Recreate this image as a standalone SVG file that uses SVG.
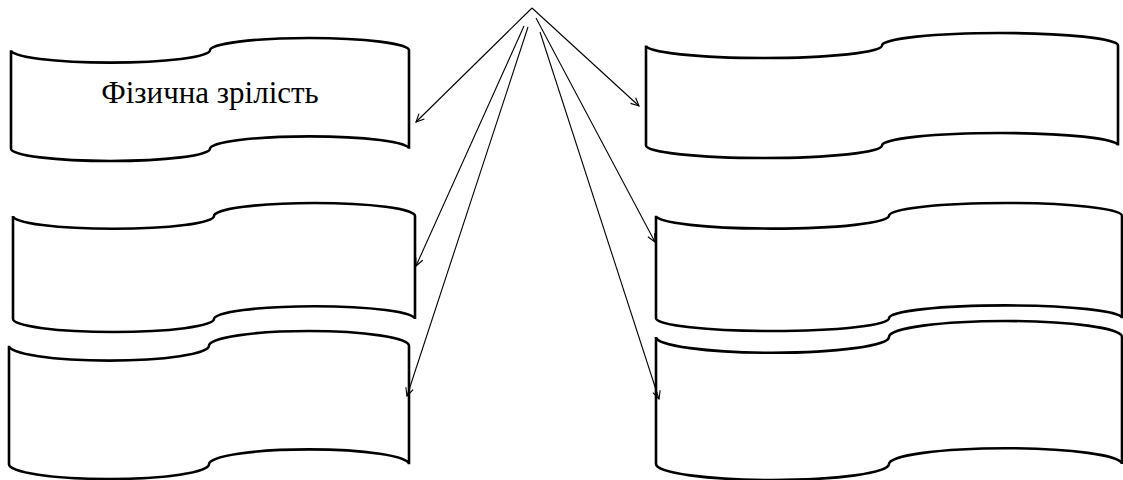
<svg xmlns="http://www.w3.org/2000/svg" width="1123" height="480" viewBox="0 0 1123 480">
<style>
.box{fill:#fff;stroke:#000;stroke-width:2.6;stroke-linejoin:miter}
.lbl{font-family:"Liberation Serif","DejaVu Serif","Times New Roman",serif;font-size:31px;fill:#000}
.con{stroke:#000;stroke-width:1.1;fill:none}
</style>
<defs>
<marker id="ah" markerUnits="userSpaceOnUse" markerWidth="12" markerHeight="12" refX="10" refY="6" orient="auto">
<path d="M2,2.2 L10,6 L2,9.8" fill="none" stroke="#000" stroke-width="1.1"/>
</marker>
</defs>
<rect width="1123" height="480" fill="#fff"/>
<g id="box-l1">
<path class="box" d="M11,50.3 A99.5,12.3 0 0 0 210,50.3 A99.5,12.3 0 0 1 409,50.3 L409,148.7 A99.5,12.3 0 0 0 210,148.7 A99.5,12.3 0 0 1 11,148.7 Z"/>
<text class="lbl" x="210" y="103" text-anchor="middle" font-family="Liberation Serif, DejaVu Serif, serif">Фізична зрілість</text>
</g>
<g id="box-l2">
<path class="box" d="M13,215.9 A100.5,12.9 0 0 0 214,215.9 A100.5,12.9 0 0 1 415,215.9 L415,319.1 A100.5,12.9 0 0 0 214,319.1 A100.5,12.9 0 0 1 13,319.1 Z"/>
</g>
<g id="box-l3">
<path class="box" d="M9,345.8 A100,14.8 0 0 0 209,345.8 A100,14.8 0 0 1 409,345.8 L409,464.2 A100,14.8 0 0 0 209,464.2 A100,14.8 0 0 1 9,464.2 Z"/>
</g>
<g id="box-r1">
<path class="box" d="M646,45.5 A118,12.5 0 0 0 882,45.5 A118,12.5 0 0 1 1118,45.5 L1118,145.5 A118,12.5 0 0 0 882,145.5 A118,12.5 0 0 1 646,145.5 Z"/>
</g>
<g id="box-r2">
<path class="box" d="M656,215.8 A116.5,12.8 0 0 0 889,215.8 A116.5,12.8 0 0 1 1122,215.8 L1122,318.2 A116.5,12.8 0 0 0 889,318.2 A116.5,12.8 0 0 1 656,318.2 Z"/>
</g>
<g id="box-r3">
<path class="box" d="M656,336.9 A116.5,15.9 0 0 0 889,336.9 A116.5,15.9 0 0 1 1122,336.9 L1122,464.1 A116.5,15.9 0 0 0 889,464.1 A116.5,15.9 0 0 1 656,464.1 Z"/>
</g>
<g id="connectors">
<path class="con" d="M532,8 L416,122" marker-end="url(#ah)"/>
<path class="con" d="M532,8 L639,106" marker-end="url(#ah)"/>
<path class="con" d="M524,26 L416,266" marker-end="url(#ah)"/>
<path class="con" d="M528,27 L407,396" marker-end="url(#ah)"/>
<path class="con" d="M536,18 L655,242" marker-end="url(#ah)"/>
<path class="con" d="M540,32 L659,399" marker-end="url(#ah)"/>
</g>
</svg>
